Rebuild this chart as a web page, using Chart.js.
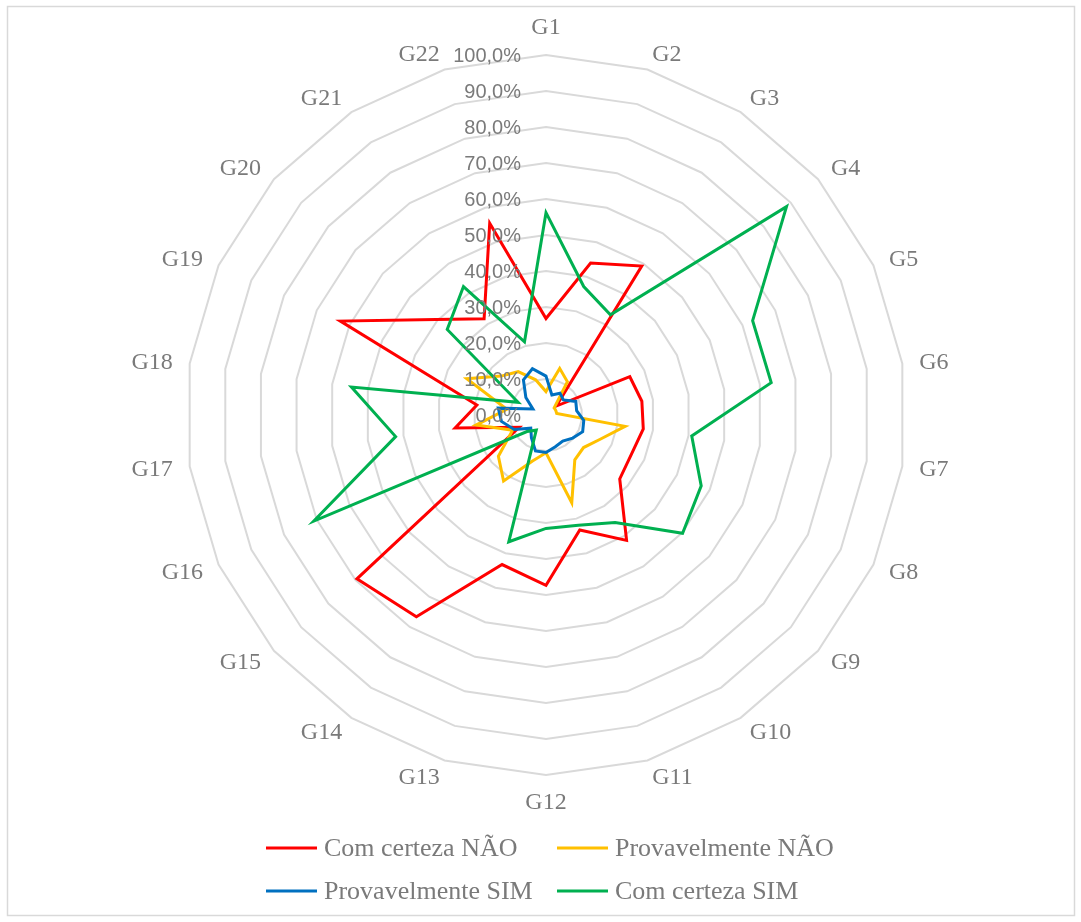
<!DOCTYPE html>
<html>
<head>
<meta charset="utf-8">
<script src="https://cdn.jsdelivr.net/npm/chart.js@4.4.1/dist/chart.umd.min.js"></script>
<style>
  html, body { margin: 0; padding: 0; background: #ffffff; }
  canvas { display: block; }
</style>
</head>
<body>
<canvas id="radar" width="1081" height="922"></canvas>
<script>
// Categories around the radar
const categories = ['G1','G2','G3','G4','G5','G6','G7','G8','G9','G10','G11',
                    'G12','G13','G14','G15','G16','G17','G18','G19','G20','G21','G22'];

// Share of answers per category (%)
const comCertezaNao    = [26.8, 44.0, 49.2, 3.8, 25.6, 26.9, 27.3, 26.1, 27.1, 41.4, 33.3,
                          47.3, 43.3, 66.6, 69.5, 8.2, 25.5, 19.4, 62.8, 40.5, 31.8, 55.5];
const provavelmenteNao = [6.5, 13.5, 11.0, 3.0, 3.0, 3.0, 22.2, 16.4, 13.8, 14.8, 25.4,
                          10.5, 13.3, 21.8, 17.5, 10.2, 19.6, 11.0, 24.2, 16.5, 14.3, 10.2];
const provavelmenteSim = [10.8, 5.8, 7.2, 6.4, 9.1, 8.6, 10.6, 11.2, 9.8, 8.6, 9.2,
                          10.4, 10.4, 7.5, 5.6, 9.7, 12.5, 13.4, 4.0, 7.4, 11.6, 13.4];
const comCertezaSim    = [56.2, 37.2, 33.1, 88.4, 63.1, 63.2, 40.9, 47.4, 50.2, 35.5, 31.9,
                          31.5, 36.7, 5.0, 7.0, 70.9, 42.2, 54.6, 8.5, 36.3, 42.4, 21.2];

// Radial axis tick values (%)
const tickValues = [0, 10, 20, 30, 40, 50, 60, 70, 80, 90, 100];

const seriesNames  = ['Com certeza NÃO', 'Provavelmente NÃO', 'Provavelmente SIM', 'Com certeza SIM'];
const seriesValues = [comCertezaNao, provavelmenteNao, provavelmenteSim, comCertezaSim];
const seriesColors = ['#FF0000', '#FFC000', '#0070C0', '#00B050'];
const drawOrder    = [4, 3, 2, 1];   // later series painted on top

const TEXT_GRAY = '#7a7a7a';
const SERIF = '"Liberation Serif", "Times New Roman", serif';
const SANS  = '"Liberation Sans", Arial, sans-serif';

function pct(v) { return v.toFixed(1).replace('.', ',') + '%'; }

// Background, outer frame, axis texts and legend
const decorations = {
  id: 'decorations',
  beforeDraw(chart) {
    const ctx = chart.ctx;
    ctx.save();
    ctx.fillStyle = '#ffffff';
    ctx.fillRect(0, 0, chart.width, chart.height);
    ctx.strokeStyle = '#d9d9d9';
    ctx.lineWidth = 1.5;
    ctx.strokeRect(7.5, 6.5, 1067, 909);
    ctx.restore();
  },
  afterDatasetsDraw(chart) {
    const ctx = chart.ctx;
    const scale = chart.scales.r;
    ctx.save();

    // value labels along the first spoke, right-aligned just left of it
    ctx.font = '20px ' + SANS;
    ctx.fillStyle = TEXT_GRAY;
    ctx.textAlign = 'right';
    ctx.textBaseline = 'middle';
    tickValues.forEach(v => {
      const d = scale.getDistanceFromCenterForValue(v);
      ctx.fillText(pct(v), scale.xCenter - 25, scale.yCenter - d + 1);
    });

    // category labels around the web
    ctx.font = '24px ' + SERIF;
    const n = categories.length;
    categories.forEach((lab, i) => {
      const p = scale.getPointPosition(i, 377);
      const a = (360 * i / n);
      let align = 'center';
      if (a > 1 && a < 179) align = 'left';
      else if (a > 181 && a < 359) align = 'right';
      let base = 'middle';
      if (a < 1 || a > 359) base = 'bottom';
      else if (Math.abs(a - 180) < 1) base = 'top';
      ctx.textAlign = align;
      ctx.textBaseline = base;
      ctx.fillText(lab, p.x, p.y + (base === 'bottom' ? 2 : base === 'top' ? -1 : 1));
    });

    // legend, two rows of two entries
    const slots = [[266, 848], [557, 848], [266, 891], [557, 891]];
    ctx.font = '26px ' + SERIF;
    ctx.textAlign = 'left';
    ctx.textBaseline = 'middle';
    seriesNames.forEach((name, i) => {
      const [x, y] = slots[i];
      ctx.strokeStyle = seriesColors[i];
      ctx.lineWidth = 3;
      ctx.beginPath();
      ctx.moveTo(x, y);
      ctx.lineTo(x + 51, y);
      ctx.stroke();
      ctx.fillStyle = TEXT_GRAY;
      ctx.fillText(name, x + 58, y + 1);
    });

    ctx.restore();
  }
};

new Chart(document.getElementById('radar'), {
  type: 'radar',
  data: {
    labels: categories,
    datasets: seriesNames.map((name, i) => ({
      label: name,
      data: seriesValues[i],
      borderColor: seriesColors[i],
      backgroundColor: 'rgba(0,0,0,0)',
      borderWidth: 3,
      borderJoinStyle: 'miter',
      pointRadius: 0,
      pointHoverRadius: 0,
      fill: false,
      tension: 0,
      order: drawOrder[i]
    }))
  },
  options: {
    responsive: false,
    devicePixelRatio: 1,
    animation: false,
    layout: { padding: { left: 186, right: 175, top: 55, bottom: 147 } },
    plugins: {
      legend: { display: false },
      tooltip: { enabled: false },
      title: { display: false }
    },
    scales: {
      r: {
        min: 0,
        max: 100,
        ticks: { display: false, stepSize: 10 },
        pointLabels: { display: false },
        angleLines: { display: false },
        grid: { color: '#d9d9d9', lineWidth: 2, circular: false }
      }
    }
  },
  plugins: [decorations]
});
</script>
</body>
</html>
